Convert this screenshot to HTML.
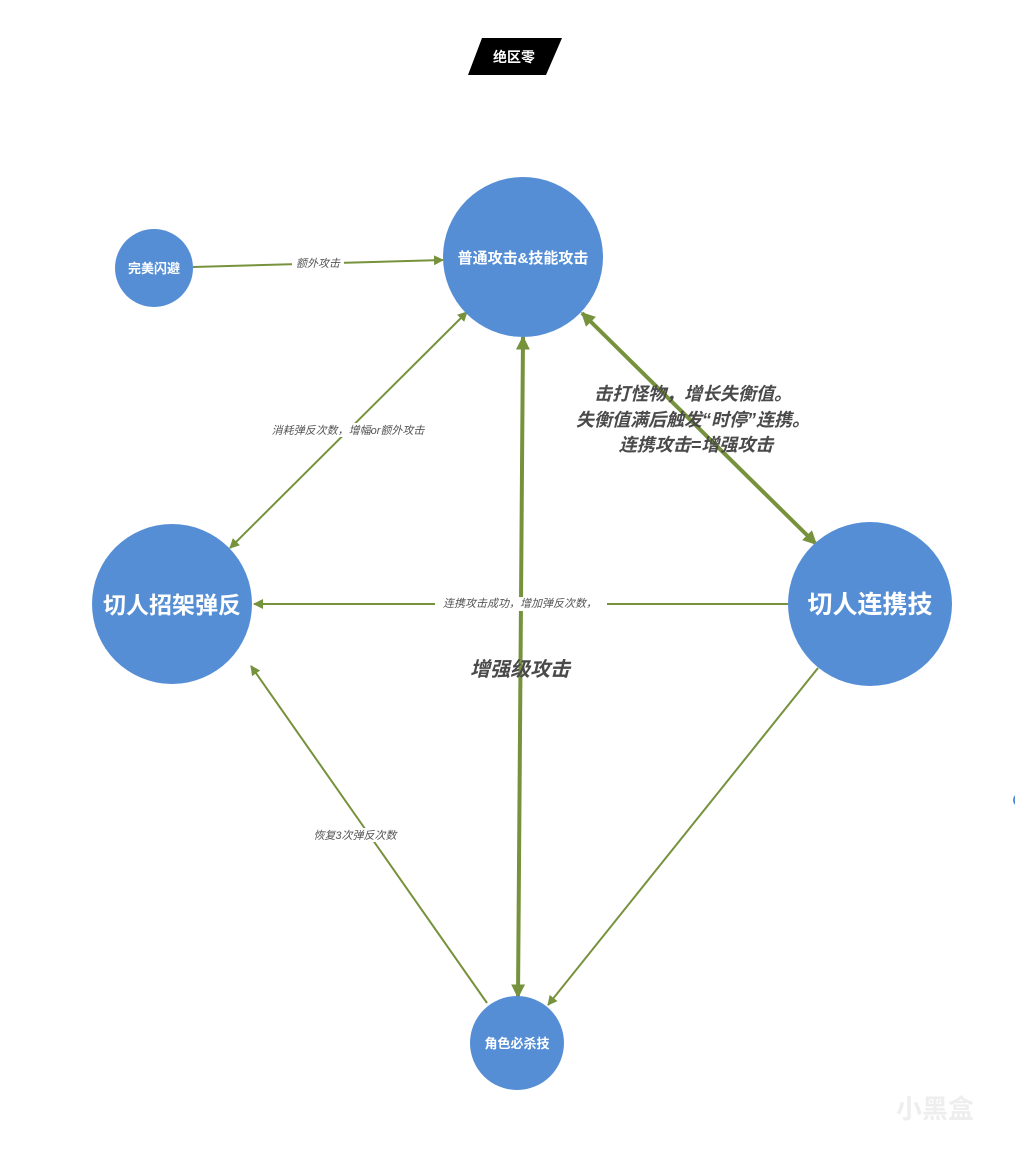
<!DOCTYPE html>
<html><head><meta charset="utf-8"><style>
html,body{margin:0;padding:0;background:#fff;}
svg{display:block}
text{font-family:"Liberation Sans","Noto Sans CJK SC",sans-serif;}
</style></head><body>
<svg width="1015" height="1154" viewBox="0 0 1015 1154" xmlns="http://www.w3.org/2000/svg">
<defs>
<marker id="a" viewBox="0 0 10 10" refX="9" refY="5" markerWidth="5" markerHeight="5" orient="auto-start-reverse"><path d="M0,0L10,5L0,10z" fill="#76923c"/></marker>
<marker id="b" viewBox="0 0 10 10" refX="9" refY="5" markerWidth="3.5" markerHeight="3.5" orient="auto-start-reverse"><path d="M0,0L10,5L0,10z" fill="#76923c"/></marker>
</defs>
<polygon points="482,38 562,38 546,75 468,75" fill="#000"/>
<text x="514" y="62" fill="#fff" font-size="14" font-weight="bold" text-anchor="middle">绝区零</text>

<g stroke="#76923c" fill="none">
<line x1="193" y1="267" x2="443" y2="260" stroke-width="2" marker-end="url(#a)"/>
<line x1="467" y1="312" x2="230" y2="548" stroke-width="2" marker-start="url(#a)" marker-end="url(#a)"/>
<line x1="582" y1="313" x2="816" y2="544" stroke-width="4" marker-start="url(#b)" marker-end="url(#b)"/>
<line x1="523" y1="337" x2="518" y2="997" stroke-width="4" marker-start="url(#b)" marker-end="url(#b)"/>
<line x1="788" y1="604" x2="254" y2="604" stroke-width="2" marker-end="url(#a)"/>
<line x1="487" y1="1003" x2="251" y2="666" stroke-width="2" marker-end="url(#a)"/>
<line x1="818" y1="668" x2="548" y2="1005" stroke-width="2" marker-end="url(#a)"/>
</g>

<g fill="#558ed5">
<circle cx="154" cy="268" r="39"/>
<circle cx="523" cy="257" r="80"/>
<circle cx="172" cy="604" r="80"/>
<circle cx="870" cy="604" r="82"/>
<circle cx="517" cy="1043" r="47"/>
<circle cx="1020" cy="800" r="7"/>
</g>
<g fill="#fff" font-weight="bold" text-anchor="middle">
<text x="154" y="273" font-size="13">完美闪避</text>
<text x="523" y="263" font-size="15">普通攻击&amp;技能攻击</text>
<text x="172" y="613" font-size="23">切人招架弹反</text>
<text x="870" y="613" font-size="25">切人连携技</text>
<text x="517" y="1048" font-size="13">角色必杀技</text>
</g>

<g font-style="italic" fill="#555" text-anchor="middle" font-size="11">
<rect x="292" y="256" width="52" height="14" fill="#fff"/>
<text x="318" y="267">额外攻击</text>
<rect x="262" y="423" width="172" height="14" fill="#fff"/>
<text x="348" y="434">消耗弹反次数，增幅or额外攻击</text>
<rect x="435" y="597" width="172" height="14" fill="#fff"/>
<text x="520" y="607">连携攻击成功，增加弹反次数，</text>
<rect x="308" y="828" width="94" height="14" fill="#fff"/>
<text x="355" y="839">恢复3次弹反次数</text>
</g>
<g font-style="italic" font-weight="bold" fill="#4a4a4a" text-anchor="middle" font-size="18">
<text x="693" y="400">击打怪物，增长失衡值。</text>
<text x="693" y="426">失衡值满后触发“时停”连携。</text>
<text x="696" y="451">连携攻击=增强攻击</text>
<text x="520" y="676" font-size="20">增强级攻击</text>
</g>
<text x="935" y="1118" fill="#eee" font-size="26" font-weight="bold" text-anchor="middle">小黑盒</text>
</svg>
</body></html>
